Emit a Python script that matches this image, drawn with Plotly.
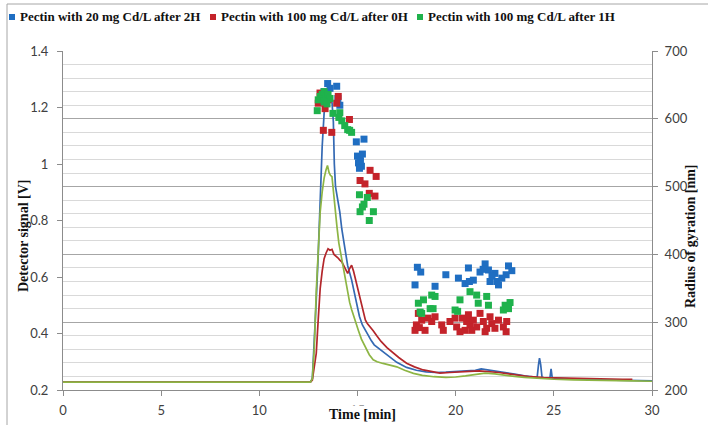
import plotly.graph_objects as go

# ---------------- Detector signal lines (time [min], signal [V]) ----------------
blue_t = [0, 12.6, 12.7, 12.8, 12.9, 13.0, 13.1, 13.2, 13.3, 13.4, 13.5, 13.6, 13.7, 13.77, 13.82, 13.88,
          14.0, 14.1, 14.2, 14.35, 14.5, 14.7, 14.9, 15.1, 15.25, 15.4, 15.55, 15.7, 15.85, 16.0, 16.3,
          16.6, 17.0, 17.5, 18.0, 18.5, 19.0, 19.5, 20.0, 20.5, 21.0, 21.3, 21.6, 22.0, 22.5, 23.0,
          23.5, 24.0, 24.15, 24.22, 24.27, 24.33, 24.4, 24.8, 24.86, 24.92, 25.5, 26.5, 27.5, 28.5, 29.5, 30]
blue_v = [0.228, 0.228, 0.24, 0.36, 0.52, 0.68, 0.9, 1.06, 1.18, 1.23, 1.245, 1.24, 1.22, 1.15, 1.0, 0.92,
          0.87, 0.83, 0.77, 0.70, 0.64, 0.59, 0.53, 0.46, 0.43, 0.41, 0.39, 0.375, 0.36, 0.352, 0.335,
          0.317, 0.298, 0.28, 0.27, 0.264, 0.262, 0.263, 0.265, 0.266, 0.27, 0.275, 0.272, 0.268, 0.262, 0.256,
          0.25, 0.245, 0.245, 0.29, 0.313, 0.29, 0.244, 0.242, 0.275, 0.242, 0.24, 0.238, 0.236, 0.235, 0.233, 0.232]

red_t = [0, 12.6, 12.7, 12.8, 12.9, 13.0, 13.1, 13.2, 13.3, 13.4, 13.5, 13.6, 13.7, 13.8, 13.9, 14.0,
         14.1, 14.2, 14.3, 14.4, 14.5, 14.6, 14.7, 14.8, 14.9, 15.0, 15.1, 15.2, 15.3, 15.4, 15.5, 15.65,
         15.8, 16.0, 16.2, 16.5, 16.8, 17.1, 17.5, 17.9, 18.35, 18.8, 19.2, 19.7, 20.2, 20.7, 21.2, 21.7,
         22.2, 22.7, 23.2, 23.8, 24.5, 25.5, 26.5, 27.5, 28.5, 29.0]
red_v = [0.228, 0.228, 0.235, 0.28, 0.33, 0.45, 0.56, 0.62, 0.665, 0.685, 0.70, 0.695, 0.698, 0.68, 0.675, 0.668,
         0.66, 0.654, 0.64, 0.625, 0.613, 0.63, 0.642, 0.62, 0.59, 0.565, 0.535, 0.50, 0.47, 0.448, 0.435, 0.424,
         0.41, 0.39, 0.372, 0.35, 0.332, 0.315, 0.295, 0.282, 0.271, 0.265, 0.26, 0.262, 0.265, 0.266, 0.268, 0.266,
         0.262, 0.257, 0.252, 0.247, 0.244, 0.242, 0.24, 0.239, 0.238, 0.238]

green_t = [0, 12.6, 12.7, 12.8, 12.9, 13.0, 13.1, 13.2, 13.3, 13.4, 13.47, 13.55, 13.62, 13.7, 13.77, 13.85,
           13.95, 14.05, 14.15, 14.28, 14.45, 14.6, 14.7, 14.85, 15.05, 15.2, 15.4, 15.6, 15.8, 16.0, 16.3,
           16.7, 17.0, 17.4, 17.85, 18.3, 18.9, 19.5, 20.0, 20.5, 21.0, 21.5, 22.0, 22.5, 23.0, 23.5, 24.0,
           25.0, 26.0, 27.0, 28.0, 29.0, 30.0]
green_v = [0.228, 0.228, 0.24, 0.35, 0.55, 0.70, 0.83, 0.90, 0.95, 0.98, 0.995, 0.97, 0.96, 0.955, 0.90, 0.84,
           0.78, 0.72, 0.68, 0.63, 0.56, 0.51, 0.485, 0.45, 0.41, 0.38, 0.35, 0.325, 0.307, 0.30, 0.294,
           0.288, 0.282, 0.27, 0.259, 0.252, 0.247, 0.245, 0.246, 0.25, 0.255, 0.26, 0.257, 0.252, 0.248, 0.245, 0.242,
           0.238, 0.236, 0.234, 0.233, 0.232, 0.231]

# ---------------- Radius of gyration points (time [min], Rg [nm]) ----------------
blue_rg_t = [13.3, 13.48, 13.94, 13.6, 13.4, 14.1, 14.0,
             14.94, 15.33, 15.0, 15.13, 15.05, 15.2, 15.1, 15.25, 15.15,
             18.05, 18.22, 17.93, 18.95, 19.5, 20.14, 20.65, 20.48, 20.7, 21.24, 21.5, 21.67,
             22.0, 21.75, 22.1, 22.18, 22.69, 22.86, 22.57, 22.35, 21.85, 21.4, 20.9]
blue_rg = [640, 652, 648, 645, 638, 620, 630,
           566, 570, 545, 544, 535, 530, 527, 548, 538,
           381, 374, 355, 353, 370, 365, 380, 357, 360, 374, 386, 377,
           372, 360, 360, 355, 383, 376, 370, 365, 368, 378, 362]

red_rg_t = [13.09, 13.0, 13.35, 14.02, 13.94, 14.59, 13.26, 13.69, 13.2, 13.5,
            15.64, 15.95, 15.13, 15.38, 15.89, 15.6,
            18.1, 18.27, 18.0, 17.93, 18.15, 18.44, 18.6, 18.78, 18.95, 19.29, 19.37, 19.71,
            19.97, 20.05, 20.22, 20.48, 20.56, 20.65, 20.73, 20.9, 20.82, 21.07, 21.24, 21.41,
            21.58, 21.75, 21.84, 22.0, 22.18, 22.43, 22.6, 22.57, 20.35, 21.5]
red_rg = [638, 623, 615, 633, 623, 599, 583, 580, 630, 628,
          524, 515, 509, 504, 486, 490,
          313, 303, 296, 288, 292, 288, 306, 301, 308, 296, 288, 301,
          306, 293, 286, 288, 301, 311, 296, 303, 288, 293, 313, 301,
          291, 308, 298, 291, 303, 293, 301, 286, 306, 286]

green_rg_t = [13.0, 13.1, 13.2, 13.3, 13.4, 13.5, 13.6, 13.3, 13.45, 12.95, 13.75, 14.1, 14.2, 14.35,
              14.5, 14.7, 14.05, 14.6,
              15.1, 15.5, 15.33, 15.13, 15.81, 15.6, 15.25,
              18.1, 18.36, 18.78, 18.95, 18.7, 18.85, 18.19, 18.27, 20.22, 19.97, 20.1, 20.73,
              21.07, 21.15, 21.58, 21.67, 22.52, 22.69, 22.77, 22.43, 22.6]
green_rg = [628, 633, 636, 640, 633, 636, 630, 625, 622, 612, 608, 609, 597, 590,
            584, 580, 602, 583,
            488, 484, 474, 463, 463, 450, 470,
            328, 333, 340, 338, 320, 320, 315, 313, 333, 318, 316, 345,
            340, 328, 338, 325, 325, 320, 329, 318, 322]

legend_names = ["Pectin with 20 mg Cd/L after 2H",
                "Pectin with 100 mg Cd/L after 0H",
                "Pectin with 100 mg Cd/L after 1H"]

x_ticks = [0, 5, 10, 15, 20, 25, 30]
y_ticks = [0.2, 0.4, 0.6, 0.8, 1.0, 1.2, 1.4]
y_ticktext = ["0.2", "0.4", "0.6", "0.8", "1", "1.2", "1.4"]
y2_ticks = [200, 300, 400, 500, 600, 700]

LINE_BLUE = "#3469B3"
LINE_RED = "#B3262B"
LINE_GREEN = "#8DB544"
PT_BLUE = "#1F6EC2"
PT_RED = "#C4232A"
PT_GREEN = "#1FB24C"
pt_colors = [PT_BLUE, PT_RED, PT_GREEN]

W, H = 708, 425
ML, MR, MT, MB = 63, 56, 51, 35
PW, PH = W - ML - MR, H - MT - MB


def px_x(px):
    return (px - ML) / PW


def px_y(py):
    return (H - MB - py) / PH


fig = go.Figure()
for t, v, c in [(blue_t, blue_v, LINE_BLUE), (red_t, red_v, LINE_RED), (green_t, green_v, LINE_GREEN)]:
    fig.add_trace(go.Scatter(x=t, y=v, mode="lines", line=dict(color=c, width=1.7),
                             showlegend=False, yaxis="y", hoverinfo="skip"))

for t, r, c, n in zip([blue_rg_t, red_rg_t, green_rg_t], [blue_rg, red_rg, green_rg], pt_colors, legend_names):
    fig.add_trace(go.Scatter(x=t, y=r, mode="markers", name=n, yaxis="y2", showlegend=False,
                             marker=dict(symbol="square", size=7, color=c, line=dict(width=0))))

tick_font = dict(family="Lato, Open Sans, sans-serif", size=13, color="#404040")
axis_col = "#8C8C8C"
title_font = dict(family="Liberation Serif, Times New Roman, serif", size=14, color="#111111", weight="bold")
legend_font = dict(family="Liberation Serif, Times New Roman, serif", size=13, color="#111111", weight="bold")

fig.update_layout(
    width=W, height=H,
    margin=dict(l=ML, r=MR, t=MT, b=MB, autoexpand=False),
    paper_bgcolor="white", plot_bgcolor="white",
    showlegend=False,
    xaxis=dict(range=[0, 30], tickvals=x_ticks, showgrid=False, zeroline=False,
               showline=True, linecolor=axis_col, ticks="outside", ticklen=5, tickcolor=axis_col,
               tickfont=tick_font, ticklabelstandoff=3),
    yaxis=dict(range=[0.2, 1.4], tickvals=y_ticks, ticktext=y_ticktext,
               showgrid=False, zeroline=False,
               showline=True, linecolor=axis_col, ticks="outside", ticklen=5, tickcolor=axis_col,
               tickfont=tick_font, ticklabelstandoff=6),
    yaxis2=dict(range=[200, 700], tickvals=y2_ticks, overlaying="y", side="right",
                showgrid=True, gridcolor="#A6A6A6", gridwidth=1, zeroline=False,
                minor=dict(dtick=20, showgrid=True, gridcolor="#D9D9D9", gridwidth=1),
                showline=True, linecolor=axis_col, ticks="outside", ticklen=5, tickcolor=axis_col,
                tickfont=tick_font, ticklabelstandoff=4),
)

# legend drawn as swatch + label row at the top (as in the original)
legend_swatch_px = [12, 213, 420]
for sx, c, n in zip(legend_swatch_px, pt_colors, legend_names):
    fig.add_shape(type="rect", xref="paper", yref="paper",
                  x0=px_x(sx - 3), x1=px_x(sx + 3), y0=px_y(20), y1=px_y(14),
                  line=dict(width=0), fillcolor=c)
    fig.add_annotation(text=n, xref="paper", yref="paper", x=px_x(sx + 6), y=px_y(17),
                       xanchor="left", yanchor="middle", showarrow=False, font=legend_font)

fig.add_annotation(text="Detector signal [V]", xref="paper", yref="paper", x=px_x(23), y=px_y(236),
                   textangle=-90, showarrow=False, font=title_font, xanchor="center", yanchor="middle")
fig.add_annotation(text="Radius of gyration [nm]", xref="paper", yref="paper", x=px_x(690), y=px_y(236),
                   textangle=-90, showarrow=False, font=title_font, xanchor="center", yanchor="middle")
fig.add_annotation(text="Time [min]", xref="paper", yref="paper", x=px_x(362), y=px_y(414),
                   showarrow=False, font=title_font, xanchor="center", yanchor="middle", bgcolor="white")

fig.add_shape(type="rect", xref="paper", yref="paper", x0=px_x(7), y0=px_y(440), x1=px_x(720), y1=px_y(4),
              line=dict(color="#A6A6A6", width=1), fillcolor="rgba(0,0,0,0)")

fig.write_html("out.html")
